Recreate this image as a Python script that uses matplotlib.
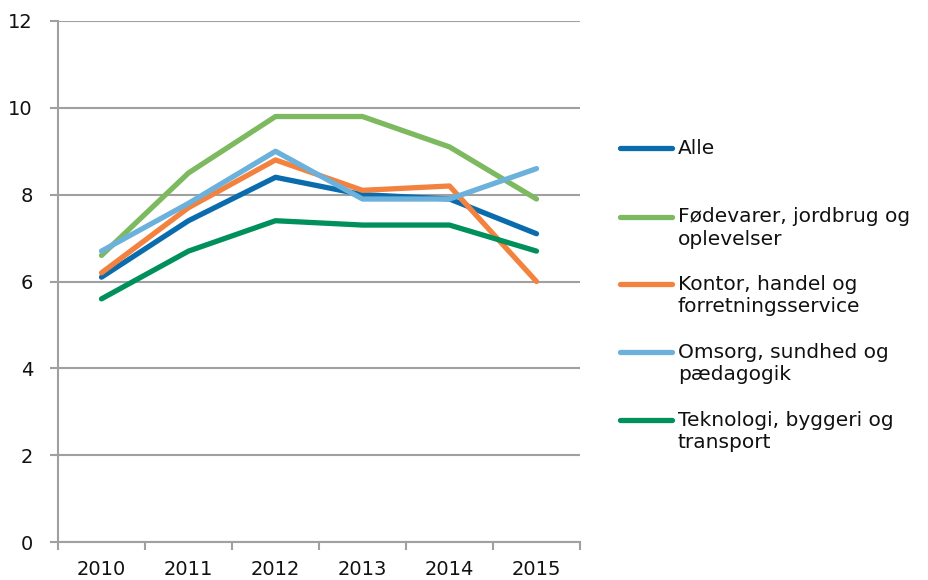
import matplotlib
matplotlib.use("Agg")
import matplotlib.pyplot as plt
from matplotlib.lines import Line2D

years = ["2010", "2011", "2012", "2013", "2014", "2015"]

alle = [6.1, 7.4, 8.4, 8.0, 7.9, 7.1]
foedevarer = [6.6, 8.5, 9.8, 9.8, 9.1, 7.9]
kontor = [6.2, 7.7, 8.8, 8.1, 8.2, 6.0]
omsorg = [6.7, 7.8, 9.0, 7.9, 7.9, 8.6]
teknologi = [5.6, 6.7, 7.4, 7.3, 7.3, 6.7]

labels = ["Alle",
          "Fødevarer, jordbrug og\noplevelser",
          "Kontor, handel og\nforretningsservice",
          "Omsorg, sundhed og\npædagogik",
          "Teknologi, byggeri og\ntransport"]
series = [alle, foedevarer, kontor, omsorg, teknologi]
colors = ["#0A6BAD", "#7DB95F", "#F4823F", "#6BB1DC", "#00905C"]

plt.rcParams['font.family'] = ['DejaVu Sans']
fig = plt.figure(figsize=(9.29, 5.8), dpi=100)
ax = fig.add_axes([58 / 929, 1 - 542 / 580, (580 - 58) / 929, (542 - 21) / 580])

x = range(len(years))
# draw in an order so overlaps look like the reference
for i in [1, 0, 2, 4, 3]:
    ax.plot(x, series[i], color=colors[i], lw=3.8, solid_capstyle='round',
            solid_joinstyle='round', zorder=3)

grid_c = "#A0A0A0"
ax.set_ylim(0, 12)
ax.set_yticks(range(0, 13, 2))
ax.set_xlim(-0.5, len(years) - 0.5)
ax.set_xticks(list(x))
ax.set_xticklabels(years)
ax.set_xticks([i - 0.5 for i in range(len(years) + 1)], minor=True)
ax.tick_params(axis='x', which='major', length=0, pad=13, labelsize=14, colors='#111111')
ax.tick_params(axis='x', which='minor', length=6, width=1.5, color=grid_c, direction='out')
ax.tick_params(axis='y', length=6, width=1.5, color=grid_c, direction='out', pad=12,
               labelsize=14, labelcolor='#111111')
ax.yaxis.grid(True, color=grid_c, lw=1.5)
ax.set_axisbelow(True)
for s in ['top', 'right']:
    ax.spines[s].set_visible(False)
for s in ['left', 'bottom']:
    ax.spines[s].set_color(grid_c)
    ax.spines[s].set_linewidth(1.5)

# legend drawn by hand to match the reference layout
ys = [148, 217, 284, 352, 420]
for lab, c, yp in zip(labels, colors, ys):
    yf = 1 - yp / 580
    fig.add_artist(Line2D([620 / 929, 672 / 929], [yf, yf], color=c, lw=3.8,
                          solid_capstyle='round', transform=fig.transFigure))
    for k, part in enumerate(lab.split("\n")):
        fig.text(678 / 929, 1 - (yp + 23 * k) / 580, part, fontsize=14.5,
                 va='center', ha='left', color='#111111')

fig.savefig("out.png", dpi=100)
